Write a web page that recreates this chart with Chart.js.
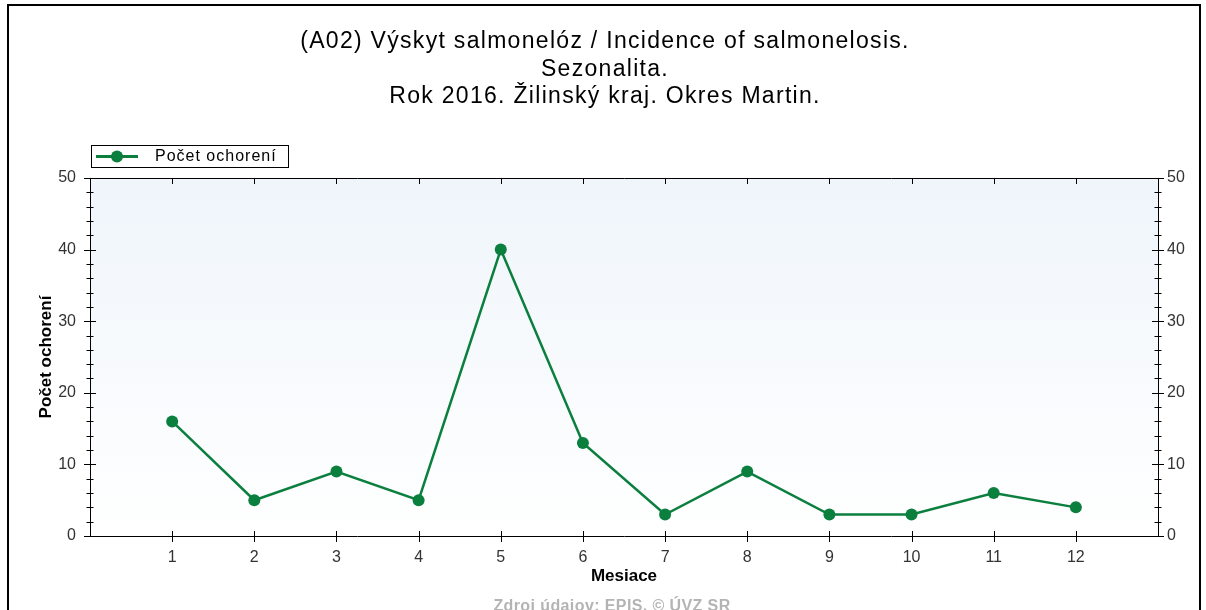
<!DOCTYPE html>
<html>
<head>
<meta charset="utf-8">
<script src="https://cdn.jsdelivr.net/npm/chart.js@4/dist/chart.umd.min.js"></script>
<style>
  html, body { margin: 0; padding: 0; background: #fff; }
  #wrap { width: 1206px; height: 610px; }
</style>
</head>
<body>
<div id="wrap"><canvas id="chart" width="1206" height="610"></canvas></div>
<script>
const months = [1, 2, 3, 4, 5, 6, 7, 8, 9, 10, 11, 12];
const cases = [16, 5, 9, 5, 40, 13, 3, 9, 3, 3, 6, 4];
const titleLines = [
  '(A02) Výskyt salmonelóz / Incidence of salmonelosis.',
  'Sezonalita.',
  'Rok 2016. Žilinský kraj. Okres Martin.',
];
const seriesLabel = 'Počet ochorení';
const xTitle = 'Mesiace';
const yTitle = 'Počet ochorení';
const footer = 'Zdroj údajov: EPIS, © ÚVZ SR';

const GREEN = '#0b7f3e';
const FONT = '"Liberation Sans", Arial, sans-serif';

const framePlugin = {
  id: 'frame',
  beforeDraw(chart) {
    const { ctx, chartArea: a } = chart;
    ctx.save();
    ctx.fillStyle = '#fff';
    ctx.fillRect(0, 0, chart.width, chart.height);
    const g = ctx.createLinearGradient(0, a.top, 0, a.bottom);
    g.addColorStop(0, '#eff5fb');
    g.addColorStop(1, '#ffffff');
    ctx.fillStyle = g;
    ctx.fillRect(a.left, a.top, a.right - a.left, a.bottom - a.top);
    // outer picture frame
    ctx.strokeStyle = '#000';
    ctx.lineWidth = 2;
    ctx.beginPath();
    ctx.moveTo(8, 610);
    ctx.lineTo(8, 5);
    ctx.lineTo(1200, 5);
    ctx.lineTo(1200, 610);
    ctx.stroke();

    // title, slightly letter-spaced like the original
    ctx.fillStyle = '#000';
    ctx.font = '23px ' + FONT;
    ctx.textAlign = 'center';
    ctx.textBaseline = 'middle';
    ctx.letterSpacing = '1.3px';
    titleLines.forEach((t, i) => ctx.fillText(t, 605, 42 + i * 27.5));
    ctx.restore();
  },
  afterDraw(chart) {
    const { ctx, chartArea: a, scales } = chart;
    ctx.save();
    ctx.strokeStyle = '#000';
    ctx.lineWidth = 1;
    ctx.beginPath();
    ctx.rect(Math.round(a.left) + 0.5, Math.round(a.top) + 0.5, Math.round(a.right - a.left), Math.round(a.bottom - a.top));
    ctx.stroke();

    // y ticks, major every 10, minor every 2
    ctx.beginPath();
    for (let v = 0; v <= 50; v += 2) {
      const y = Math.round(scales.y.getPixelForValue(v)) + 0.5;
      const len = v % 10 === 0 ? 6 : 3.5;
      ctx.moveTo(a.left - len, y);
      ctx.lineTo(a.left + len, y);
      ctx.moveTo(a.right - len, y);
      ctx.lineTo(a.right + len, y);
    }
    // x ticks bottom and top
    months.forEach((m) => {
      const x = Math.round(scales.x.getPixelForValue(m)) + 0.5;
      ctx.moveTo(x, a.bottom - 5);
      ctx.lineTo(x, a.bottom + 6);
      ctx.moveTo(x, a.top);
      ctx.lineTo(x, a.top + 6);
    });
    ctx.stroke();

    // legend box
    ctx.strokeRect(91.5, 145.5, 197, 22);
    ctx.strokeStyle = GREEN;
    ctx.lineWidth = 3;
    ctx.beginPath();
    ctx.moveTo(96, 156.5);
    ctx.lineTo(138, 156.5);
    ctx.stroke();
    ctx.fillStyle = GREEN;
    ctx.beginPath();
    ctx.arc(117, 156.5, 6, 0, Math.PI * 2);
    ctx.fill();
    ctx.fillStyle = '#000';
    ctx.font = '16px ' + FONT;
    ctx.textBaseline = 'middle';
    ctx.textAlign = 'left';
    ctx.letterSpacing = '1px';
    ctx.fillText(seriesLabel, 155, 157);

    // source note, cut by the bottom edge
    ctx.fillStyle = '#b4b4b4';
    ctx.font = 'bold 16px ' + FONT;
    ctx.textAlign = 'center';
    ctx.letterSpacing = '0.4px';
    ctx.fillText(footer, 612, 607);
    ctx.restore();
  },
};

new Chart(document.getElementById('chart'), {
  type: 'line',
  data: {
    datasets: [
      {
        label: seriesLabel,
        data: months.map((m, i) => ({ x: m, y: cases[i] })),
        borderColor: GREEN,
        backgroundColor: GREEN,
        borderWidth: 2.5,
        pointRadius: 6,
        pointBorderWidth: 0,
        tension: 0,
      },
    ],
  },
  options: {
    responsive: false,
    animation: false,
    layout: { padding: { top: 178, left: 0, right: 0, bottom: 0 } },
    plugins: {
      legend: { display: false },
      tooltip: { enabled: false },
      title: { display: false },
    },
    scales: {
      x: {
        type: 'linear',
        position: 'bottom',
        min: 0,
        max: 13,
        afterFit: (s) => { s.height = 74; },
        ticks: {
          stepSize: 1,
          autoSkip: false,
          maxRotation: 0,
          padding: 12,
          color: '#333',
          font: { family: FONT, size: 16 },
          callback: (v) => (v >= 1 && v <= 12 ? v : ''),
        },
        grid: { display: false, drawTicks: false },
        border: { display: false },
        title: {
          display: true,
          text: xTitle,
          color: '#000',
          font: { family: FONT, size: 17, weight: 'bold' },
          padding: { top: 0, bottom: 23 },
        },
      },
      y: {
        position: 'left',
        min: 0,
        max: 50,
        afterFit: (s) => { s.width = 90; },
        ticks: {
          stepSize: 10,
          padding: 14,
          color: '#333',
          font: { family: FONT, size: 16 },
        },
        grid: { display: false, drawTicks: false },
        border: { display: false },
        title: {
          display: true,
          text: yTitle,
          color: '#000',
          font: { family: FONT, size: 17, weight: 'bold' },
          padding: { top: 36, bottom: 0 },
        },
      },
      y2: {
        position: 'right',
        min: 0,
        max: 50,
        afterFit: (s) => { s.width = 48; },
        ticks: {
          stepSize: 10,
          padding: 9,
          color: '#333',
          font: { family: FONT, size: 16 },
        },
        grid: { display: false, drawTicks: false },
        border: { display: false },
      },
    },
  },
  plugins: [framePlugin],
});
</script>
</body>
</html>
